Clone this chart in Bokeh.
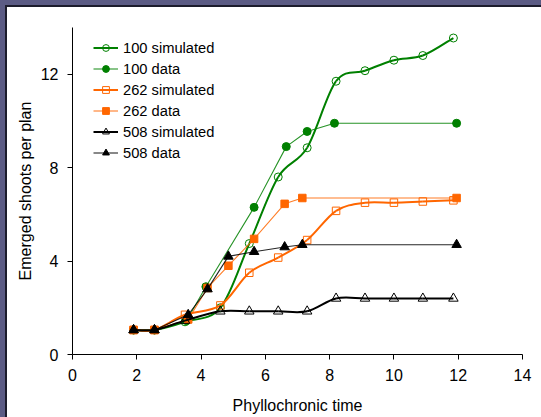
import numpy as np
from bokeh.plotting import figure
from bokeh.models import Range1d, FixedTicker, Legend, LegendItem
from bokeh.embed import file_html
from bokeh.resources import INLINE

# Phyllochronic time of each simulated step and each observation date
sim_time = [1.9, 2.55, 3.5, 4.6, 5.5, 6.4, 7.3, 8.2, 9.1, 10.0, 10.9, 11.85]
data_time_100 = [1.9, 2.55, 3.55, 4.15, 5.65, 6.65, 7.3, 8.15, 11.95]
data_time = [1.9, 2.55, 3.6, 4.2, 4.85, 5.65, 6.6, 7.15, 11.95]

# Emerged shoots per plant for the three densities (100, 262, 508)
sim_100 = [1.05, 1.05, 1.4, 2.0, 4.75, 7.6, 8.85, 11.7, 12.15, 12.6, 12.8, 13.55]
data_100 = [1.05, 1.05, 1.45, 2.9, 6.3, 8.9, 9.55, 9.9, 9.9]
sim_262 = [1.05, 1.05, 1.7, 2.1, 3.5, 4.15, 4.9, 6.15, 6.5, 6.5, 6.55, 6.6]
data_262 = [1.05, 1.05, 1.5, 2.85, 3.8, 4.95, 6.45, 6.7, 6.7]
sim_508 = [1.05, 1.05, 1.45, 1.85, 1.85, 1.85, 1.85, 2.4, 2.4, 2.4, 2.4, 2.4]
data_508 = [1.05, 1.05, 1.7, 2.8, 4.2, 4.4, 4.6, 4.7, 4.7]

x_ticks = [0, 2, 4, 6, 8, 10, 12, 14]
y_ticks = [0, 4, 8, 12]

GREEN = "#008000"
ORANGE = "#ff6600"
BLACK = "#000000"
FONT = "Liberation Sans"


def smooth_segments(xs, ys):
    """Cubic Bezier control points for a smoothed line through the points."""
    x = np.asarray(xs, float)
    y = np.asarray(ys, float)
    n = len(x)
    xp = np.concatenate([[x[0]], x, [x[-1]]])
    yp = np.concatenate([[y[0]], y, [y[-1]]])
    seg = dict(x0=[], y0=[], x1=[], y1=[], cx0=[], cy0=[], cx1=[], cy1=[])
    for i in range(n - 1):
        seg["x0"].append(x[i]); seg["y0"].append(y[i])
        seg["x1"].append(x[i + 1]); seg["y1"].append(y[i + 1])
        seg["cx0"].append(x[i] + (xp[i + 2] - xp[i]) / 6)
        seg["cy0"].append(y[i] + (yp[i + 2] - yp[i]) / 6)
        seg["cx1"].append(x[i + 1] - (xp[i + 3] - xp[i + 1]) / 6)
        seg["cy1"].append(y[i + 1] - (yp[i + 3] - yp[i + 1]) / 6)
    return seg


p = figure(width=534, height=410, output_backend="svg", toolbar_location=None,
           x_range=Range1d(0, 14), y_range=Range1d(0, 14),
           min_border_left=65, min_border_right=19,
           min_border_top=20, min_border_bottom=63)
p.margin = (7, 0, 0, 7)
p.styles = {"box-shadow": "0 0 0 2px #1c1c2c, 0 0 0 7px #5b5b84"}
p.background_fill_color = "white"
p.border_fill_color = "white"
p.outline_line_color = None
p.xgrid.visible = False
p.ygrid.visible = False

for ax, ticks in ((p.xaxis[0], x_ticks), (p.yaxis[0], y_ticks)):
    ax.ticker = FixedTicker(ticks=ticks)
    ax.minor_tick_line_color = None
    ax.major_tick_in = 0
    ax.major_tick_out = 5
    ax.axis_line_color = BLACK
    ax.major_tick_line_color = BLACK
    ax.major_label_text_font = FONT
    ax.major_label_text_font_size = "16px"
    ax.major_label_text_color = BLACK
    ax.axis_label_text_font = FONT
    ax.axis_label_text_font_size = "16px"
    ax.axis_label_text_font_style = "normal"
    ax.axis_label_text_color = BLACK

p.xaxis.axis_label = "Phyllochronic time"
p.yaxis.axis_label = "Emerged shoots per plan"
p.xaxis.major_label_standoff = 9
p.xaxis.axis_label_standoff = 13
p.yaxis.major_label_standoff = 9
p.yaxis.axis_label_standoff = 4

items = []


def add_sim(xs, ys, color, marker, size, label):
    curve = p.bezier(line_color=color, line_width=2, **smooth_segments(xs, ys))
    pts = p.scatter(xs, ys, marker=marker, size=size, line_color=color,
                    fill_color=None, line_width=1)
    items.append(LegendItem(label=label, renderers=[curve, pts]))


def add_data(xs, ys, color, marker, size, label):
    ln = p.line(xs, ys, line_color=color, line_width=1.1, line_alpha=0.85)
    pts = p.scatter(xs, ys, marker=marker, size=size, line_color=color,
                    fill_color=color, line_width=1)
    items.append(LegendItem(label=label, renderers=[ln, pts]))


add_sim(sim_time, sim_100, GREEN, "circle", 8, "100 simulated")
add_data(data_time_100, data_100, GREEN, "circle", 8, "100 data")
add_sim(sim_time, sim_262, ORANGE, "square", 7.5, "262 simulated")
add_data(data_time, data_262, ORANGE, "square", 7.5, "262 data")
add_sim(sim_time, sim_508, BLACK, "triangle", 9.5, "508 simulated")
add_data(data_time, data_508, BLACK, "triangle", 9.5, "508 data")

legend = Legend(items=items, location=(21, 193), padding=0, margin=0,
                spacing=4, glyph_width=25, glyph_height=17, label_height=17,
                label_standoff=5, label_text_font=FONT,
                label_text_font_size="14.7px", label_text_color=BLACK,
                border_line_color=None, background_fill_alpha=0)
p.add_layout(legend, "center")

open("out.html", "w").write(file_html(p, INLINE))
